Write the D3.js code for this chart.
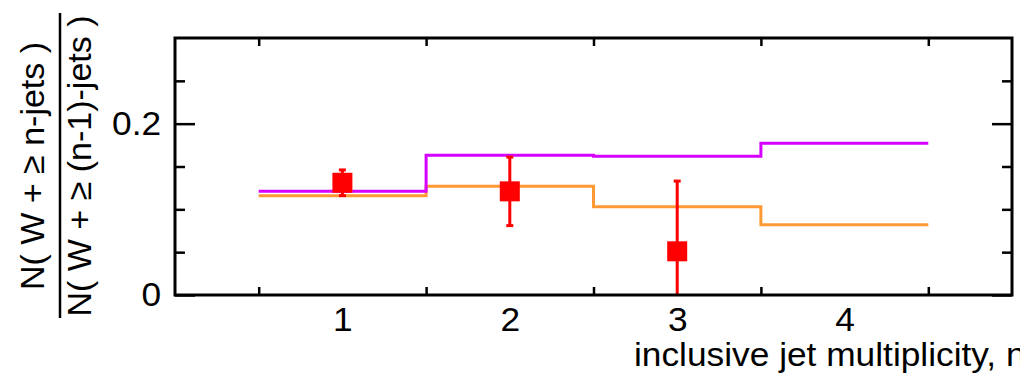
<!DOCTYPE html>
<html>
<head>
<meta charset="utf-8">
<script src="https://cdn.jsdelivr.net/npm/d3@7"></script>
<style>
  html, body { margin: 0; padding: 0; background: #fff; }
  svg { display: block; }
  text { font-family: "Liberation Sans", Arial, Helvetica, sans-serif; fill: #000; }
</style>
</head>
<body>
<svg id="chart" width="1020" height="373"></svg>
<script>
// Bin edges of the inclusive jet multiplicity (bins centred on n = 1..4)
const binEdges = [0.5, 1.5, 2.5, 3.5, 4.5];
// Prediction A (magenta step line), one value per bin
const predA = [0.121, 0.163, 0.162, 0.177];
// Prediction B (orange step line), one value per bin
const predB = [0.116, 0.127, 0.103, 0.082];
// Measured ratios with symmetric errors
const dataN = [1, 2, 3];
const dataVal = [0.131, 0.121, 0.051];
const dataErr = [0.015, 0.040, 0.082];
// Axis ticks
const xLabels = [1, 2, 3, 4];
const yMajor = [0, 0.2];
const yMinor = [0.05, 0.1, 0.15, 0.25];

const svg = d3.select("#chart");
const plotLeft = 175, plotRight = 1012, plotTop = 38, plotBottom = 295;

const x = d3.scaleLinear().domain([0, 5]).range([plotLeft, plotRight]);
const y = d3.scaleLinear().domain([0, 0.3]).range([plotBottom, plotTop]);

const fontSize = 33;
const stretch = 1.07; // slightly wide lettering

// Step outlines for the predictions
function stepPoints(vals) {
  const pts = vals.map((v, i) => [binEdges[i], v]);
  pts.push([binEdges[binEdges.length - 1], vals[vals.length - 1]]);
  return pts;
}
const step = d3.line()
  .x(d => x(d[0]))
  .y(d => y(d[1]))
  .curve(d3.curveStepAfter);

svg.append("path")
  .attr("d", step(stepPoints(predB)))
  .attr("fill", "none")
  .attr("stroke", "#ff9933")
  .attr("stroke-width", 3);

svg.append("path")
  .attr("d", step(stepPoints(predA)))
  .attr("fill", "none")
  .attr("stroke", "#d500ff")
  .attr("stroke-width", 3);

// Data points with error bars (clipped at zero)
const pts = dataN.map((n, i) => ({ n, v: dataVal[i], e: dataErr[i] }));
const gData = svg.append("g");
pts.forEach(p => {
  const lo = Math.max(0, p.v - p.e), hi = p.v + p.e;
  gData.append("line")
    .attr("x1", x(p.n)).attr("x2", x(p.n))
    .attr("y1", y(lo)).attr("y2", y(hi))
    .attr("stroke", "#ff0000").attr("stroke-width", 3);
  [lo, hi].forEach(v => {
    if (v <= 0) return;
    gData.append("line")
      .attr("x1", x(p.n) - 3.5).attr("x2", x(p.n) + 3.5)
      .attr("y1", y(v)).attr("y2", y(v))
      .attr("stroke", "#ff0000").attr("stroke-width", 3);
  });
  gData.append("rect")
    .attr("x", x(p.n) - 10).attr("y", y(p.v) - 10)
    .attr("width", 20).attr("height", 20)
    .attr("fill", "#ff0000");
});

// Axes: ticks point inward, mirrored on the opposite sides
function styleAxis(g) {
  g.select(".domain").remove();
  g.selectAll(".tick line").attr("stroke", "#000").attr("stroke-width", 2.5);
  g.selectAll(".tick text")
    .style("font-size", fontSize + "px")
    .attr("fill", "#000")
    .attr("transform", `scale(${stretch},1)`);
}

svg.append("g").attr("transform", `translate(${plotLeft},0)`)
  .call(d3.axisLeft(y).tickValues(yMinor).tickSize(-10).tickFormat(""))
  .call(styleAxis);
svg.append("g").attr("transform", `translate(${plotLeft},0)`)
  .call(d3.axisLeft(y).tickValues(yMajor).tickSize(-20).tickPadding(13)
    .tickFormat(d => d === 0 ? "0" : d3.format(".1f")(d)))
  .call(styleAxis);
svg.append("g").attr("transform", `translate(${plotRight},0)`)
  .call(d3.axisRight(y).tickValues(yMinor).tickSize(-10).tickFormat(""))
  .call(styleAxis);
svg.append("g").attr("transform", `translate(${plotRight},0)`)
  .call(d3.axisRight(y).tickValues(yMajor).tickSize(-20).tickFormat(""))
  .call(styleAxis);

svg.append("g").attr("transform", `translate(0,${plotBottom})`)
  .call(d3.axisBottom(x).tickValues(binEdges).tickSize(-8).tickFormat(""))
  .call(styleAxis);
svg.append("g").attr("transform", `translate(0,${plotTop})`)
  .call(d3.axisTop(x).tickValues(binEdges).tickSize(-8).tickFormat(""))
  .call(styleAxis);

// Bin labels under the axis (no tick marks)
svg.append("g").attr("transform", `translate(0,${plotBottom})`)
  .call(d3.axisBottom(x).tickValues(xLabels).tickSize(0).tickPadding(13).tickFormat(d3.format("d")))
  .call(styleAxis);

// Frame
svg.append("rect")
  .attr("x", plotLeft).attr("y", plotTop)
  .attr("width", plotRight - plotLeft).attr("height", plotBottom - plotTop)
  .attr("fill", "none").attr("stroke", "#000").attr("stroke-width", 3);

// Axis titles
svg.append("text")
  .attr("transform", `translate(634,366) scale(${stretch},1)`)
  .style("font-size", fontSize + "px")
  .text("inclusive jet multiplicity, n");

svg.append("text")
  .attr("transform", "translate(44,166) rotate(-90)")
  .attr("text-anchor", "middle")
  .style("font-size", "34px")
  .text("N( W + ≥ n-jets )");
svg.append("line")
  .attr("x1", 60).attr("x2", 60).attr("y1", 13).attr("y2", 318)
  .attr("stroke", "#000").attr("stroke-width", 2.5);
svg.append("text")
  .attr("transform", "translate(91,166) rotate(-90)")
  .attr("text-anchor", "middle")
  .style("font-size", "34px")
  .text("N( W + ≥ (n-1)-jets )");
</script>
</body>
</html>
